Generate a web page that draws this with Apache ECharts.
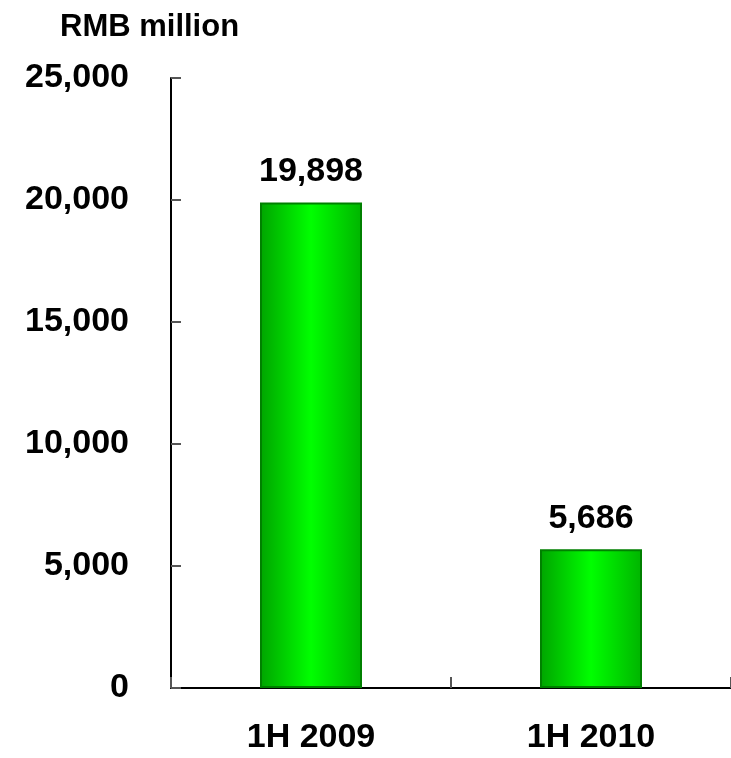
<!DOCTYPE html>
<html><head><meta charset="utf-8">
<script src="https://cdn.jsdelivr.net/npm/echarts@6/dist/echarts.min.js"></script>
<style>html,body{margin:0;padding:0;background:#fff}#c{width:731px;height:758px}</style>
</head><body><div id="c"></div>
<script>
var categories = ['1H 2009', '1H 2010'];
var values = [19898, 5686];
var unitLabel = 'RMB million';

var chart = echarts.init(document.getElementById('c'));
chart.setOption({
  animation: false,
  title: {text: unitLabel, left: 55, top: 7, textStyle: {fontFamily: 'Liberation Sans, Arial', fontWeight: 'bold', fontSize: 31, color: '#000'}},
  grid: {left: 171, top: 78, width: 566, height: 610},
  xAxis: {
    type: 'category', data: categories,
    axisLine: {lineStyle: {color: '#000', width: 2}},
    axisTick: {show: true, interval: 0, inside: true, length: 11, lineStyle: {color: '#555', width: 2}},
    axisLabel: {margin: 33, fontFamily: 'Liberation Sans, Arial', fontWeight: 'bold', fontSize: 34, color: '#000'}
  },
  yAxis: {
    type: 'value', min: 0, max: 25000, interval: 5000,
    axisLine: {show: true, lineStyle: {color: '#000', width: 2}},
    axisTick: {show: true, inside: true, length: 10, lineStyle: {color: '#555', width: 2}},
    splitLine: {show: false},
    axisLabel: {margin: 42, fontFamily: 'Liberation Sans, Arial', fontWeight: 'bold', fontSize: 34, color: '#000',
      formatter: function (v) { return v.toLocaleString('en-US'); }}
  },
  series: [{
    type: 'bar', data: values, barWidth: 102,
    itemStyle: {
      borderColor: '#008000', borderWidth: 2,
      color: new echarts.graphic.LinearGradient(0, 0, 1, 0, [
        {offset: 0, color: '#00a400'}, {offset: 0.5, color: '#00ff00'}, {offset: 1, color: '#00b400'}
      ])
    },
    label: {show: true, position: 'top', distance: 14, fontFamily: 'Liberation Sans, Arial', fontWeight: 'bold', fontSize: 34, color: '#000',
      formatter: function (p) { return p.value.toLocaleString('en-US'); }}
  }]
});
</script></body></html>
